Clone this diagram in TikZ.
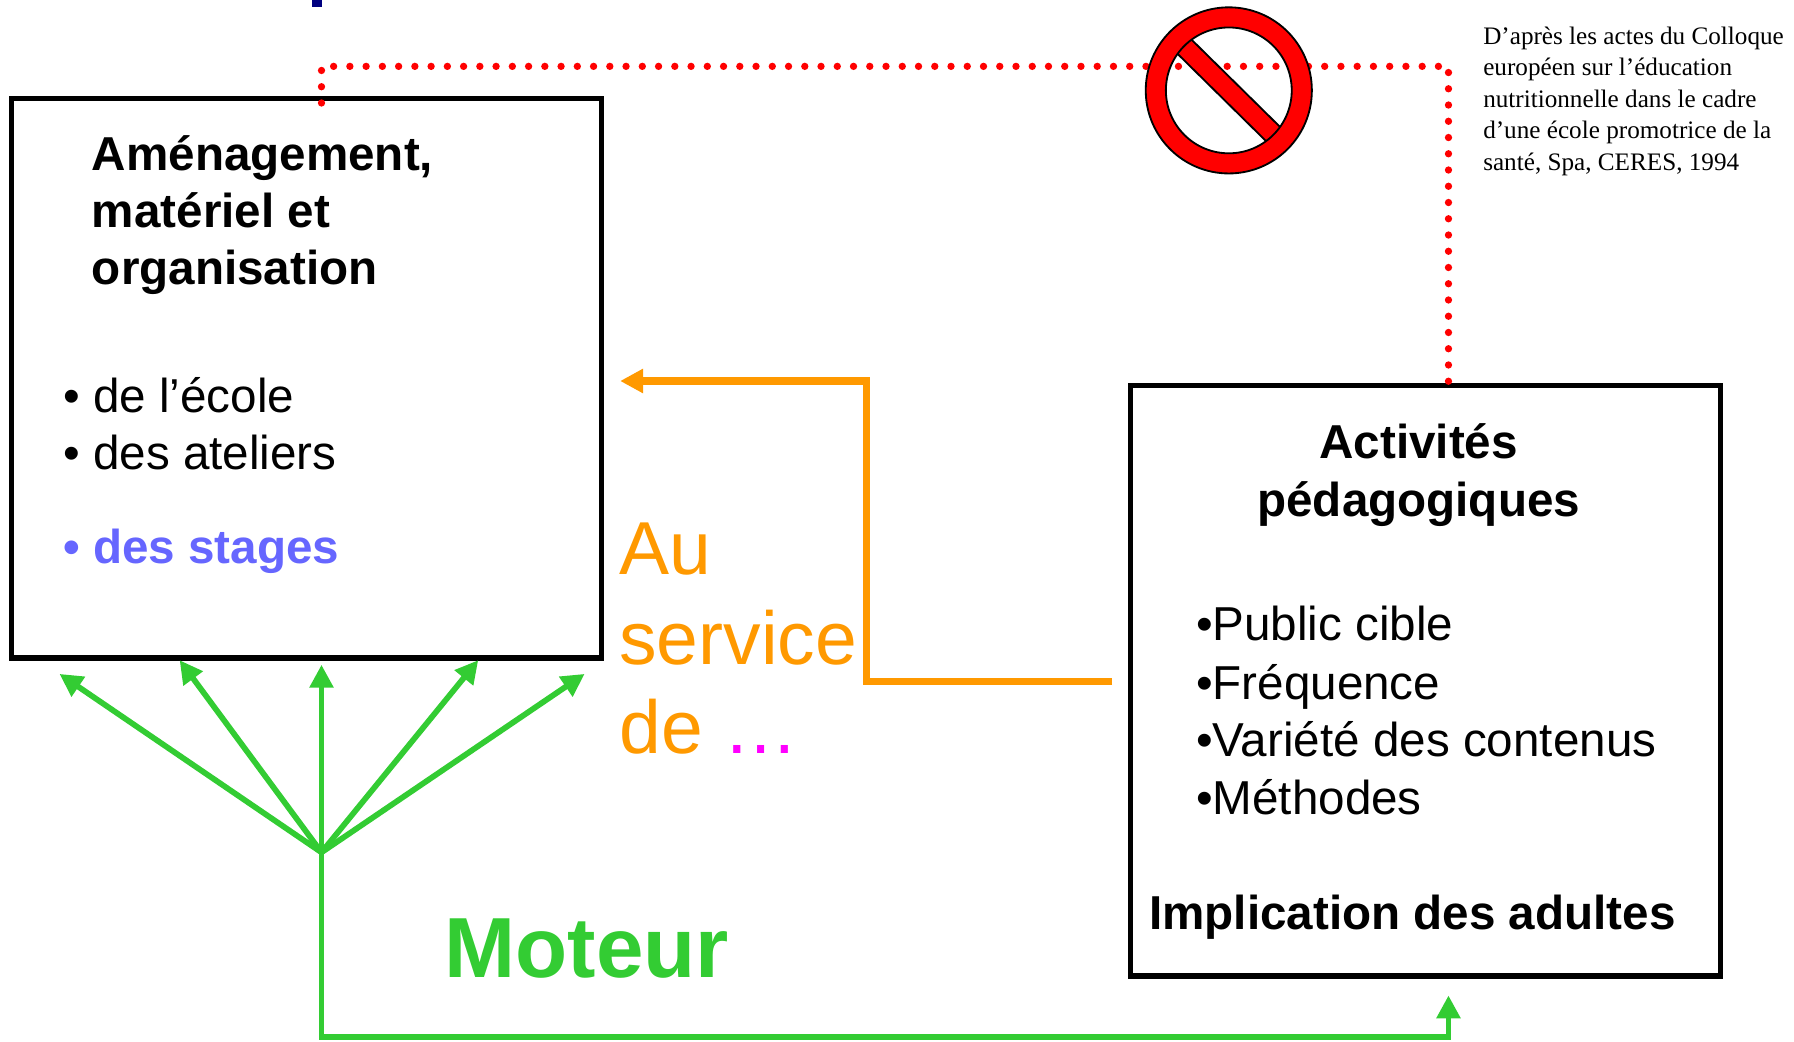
\documentclass[tikz,border=0pt]{standalone}
\usepackage{fontspec}
\setmainfont{Liberation Sans}
\newfontfamily\citefont{Liberation Serif}
\usetikzlibrary{arrows.meta}
\definecolor{moteurvert}{HTML}{33CC33}
\definecolor{serviceorange}{HTML}{FF9900}
\definecolor{stagebleu}{HTML}{6666FF}
\definecolor{pointsmagenta}{HTML}{FF00FF}
\definecolor{titremarine}{HTML}{000080}
\tikzset{
  cadre/.style={draw=black, line width=2.3pt, inner sep=0pt},
  texte/.style={font=\fontsize{20.8pt}{25pt}\selectfont, inner sep=0pt, anchor=base west},
  titre/.style={texte, font=\fontsize{20.8pt}{25pt}\selectfont\bfseries},
  grand/.style={texte, text=serviceorange, font=\fontsize{32.8pt}{39pt}\selectfont},
  source/.style={texte, font=\fontsize{11pt}{13.75pt}\selectfont\citefont},
  fleche/.style={moteurvert, line width=2.5pt, -{Triangle[length=10pt,width=10pt]}},
  service/.style={serviceorange, line width=3.1pt, -{Triangle[length=10pt,width=10pt]}},
  pointille/.style={red, line width=3.2pt, line cap=round, dash pattern=on 0pt off 7.1pt}
}
\begin{document}
\begin{tikzpicture}[x=0.5pt, y=-0.5pt]
            \useasboundingbox (0, 0) rectangle (1568, 910);
            % bout du titre
            \fill[titremarine] (273, 0) rectangle (281, 6);
            % cadres
            \node[cadre, minimum width=258pt, minimum height=244.5pt] (amenag) at (268, 330.5) {};
            \node[cadre, minimum width=258pt, minimum height=258pt] (activ) at (1246, 595) {};
            % texte du cadre de gauche
            \node[titre] (amenag1) at (80, 149) {Aménagement,};
            \node[titre] (amenag2) at (80, 199) {matériel et};
            \node[titre] (amenag3) at (80, 249) {organisation};
            \node[texte] (ecole) at (55, 360.5) {• de l’école};
            \node[texte] (ateliers) at (55, 410.5) {• des ateliers};
            \node[titre, text=stagebleu] (stages) at (55, 492.5) {• des stages};
            % texte du cadre de droite
            \node[titre, anchor=base] (activ1) at (1240, 401) {Activités};
            \node[titre, anchor=base] (activ2) at (1240, 451) {pédagogiques};
            \node[texte] (public) at (1045, 560) {•Public cible};
            \node[texte] (frequence) at (1045, 611) {•Fréquence};
            \node[texte] (variete) at (1045, 661) {•Variété des contenus};
            \node[texte] (methodes) at (1045, 711.5) {•Méthodes};
            \node[titre] (adultes) at (1004, 812) {Implication des adultes};
            % au service de
            \node[grand] (au) at (541, 502) {Au};
            \node[grand] (servicetxt) at (541, 581) {service};
            \node[grand] (de) at (541, 659) {de {\color{pointsmagenta}…}};
            \node[texte, text=moteurvert, font=\fontsize{37.3pt}{44pt}\selectfont\bfseries] (moteur) at (388, 854) {Moteur};
            % reference
            \node[source] (cite1) at (1296, 39) {D’après les actes du Colloque};
            \node[source] (cite2) at (1296, 66) {européen sur l’éducation};
            \node[source] (cite3) at (1296, 94) {nutritionnelle dans le cadre};
            \node[source] (cite4) at (1296, 121) {d’une école promotrice de la};
            \node[source] (cite5) at (1296, 149) {santé, Spa, CERES, 1994};
            % pointille rouge
            \coordinate (rougedebut) at (281, 90);
            \coordinate (rougefin) at (1266, 338);
            \draw[pointille] (rougedebut) -- (281, 58) -- (1266, 58) -- (rougefin);
            % sens interdit
            \coordinate (interdit) at (1074, 79);
            \begin{scope}
              \clip (interdit) circle[radius=28pt];
              \filldraw[red, draw=black, line width=0.8pt, shift={(interdit)}, rotate=-44.6] (-40pt, -4.35pt) rectangle (40pt, 4.35pt);
            \end{scope}
            \filldraw[red, draw=black, line width=0.8pt, even odd rule] (interdit) circle[radius=36.3pt] circle[radius=27.5pt];
            % fleche orange
            \coordinate (orangedebut) at (972, 596);
            \coordinate (orangefin) at (542, 333);
            \draw[service] (orangedebut) -- (757, 596) -- (757, 333) -- (orangefin);
            % fleches vertes
            \coordinate (hub) at (281, 745);
            \coordinate (pointe1) at (52, 589);
            \coordinate (pointe2) at (157, 577);
            \coordinate (pointe3) at (281, 581);
            \coordinate (pointe4) at (418, 577);
            \coordinate (pointe5) at (511, 589);
            \draw[fleche] (hub) -- (pointe1);
            \draw[fleche] (hub) -- (pointe2);
            \draw[fleche] (hub) -- (pointe3);
            \draw[fleche] (hub) -- (pointe4);
            \draw[fleche] (hub) -- (pointe5);
            \coordinate (moteurfin) at (1266, 870);
            \draw[fleche, line width=2.6pt] (hub) -- (281, 906) -- (1266, 906) -- (moteurfin);
        \end{tikzpicture}
\end{document}
